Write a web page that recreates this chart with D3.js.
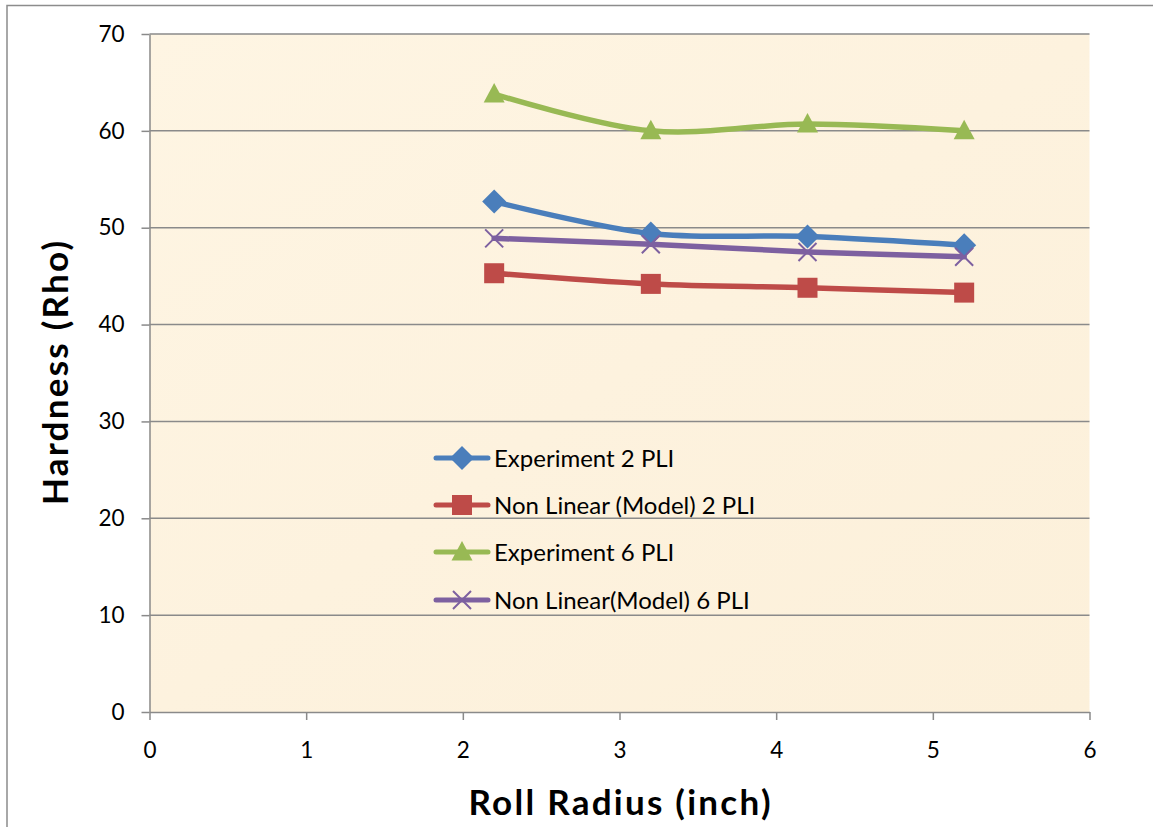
<!DOCTYPE html>
<html><head><meta charset="utf-8">
<script src="https://cdn.jsdelivr.net/npm/d3@7"></script>
<style>html,body{margin:0;padding:0;background:#fff;}svg{display:block;}</style>
</head><body>
<svg id="c" width="1153" height="827"></svg>
<script>
const radius = [2.2, 3.2, 4.2, 5.2];
const exp2 = [52.7, 49.4, 49.1, 48.2];
const model2 = [45.3, 44.2, 43.8, 43.3];
const exp6 = [63.8, 60.0, 60.7, 60.0];
const model6 = [48.9, 48.3, 47.5, 47.0];
const seriesNames = ["Experiment 2 PLI", "Non Linear (Model) 2 PLI", "Experiment 6 PLI", "Non Linear(Model) 6 PLI"];
const xTicks = [0, 1, 2, 3, 4, 5, 6];
const yTicks = [0, 10, 20, 30, 40, 50, 60, 70];

const series = [
  {name: seriesNames[0], values: exp2, color: "#4a7ebb", marker: "diamond"},
  {name: seriesNames[1], values: model2, color: "#be4b48", marker: "square"},
  {name: seriesNames[2], values: exp6, color: "#98b954", marker: "triangle"},
  {name: seriesNames[3], values: model6, color: "#7d60a0", marker: "x"}
];

const svg = d3.select("#c");
const font = "Lato, 'Open Sans', sans-serif";
const L = 149.5, R = 1089.5, T = 34, B = 712;

// outer border
svg.append("rect").attr("x", 7).attr("y", 5.5).attr("width", 1160).attr("height", 840)
  .attr("fill", "#fff").attr("stroke", "#8c8c8c").attr("stroke-width", 1.5);

const x = d3.scaleLinear().domain([0, 6]).range([L, R]);
const y = d3.scaleLinear().domain([0, 70]).range([B, T]);

// plot background (parchment)
const defs = svg.append("defs");
const g1 = defs.append("linearGradient").attr("id", "bg").attr("x1", 0).attr("y1", 0).attr("x2", 1).attr("y2", 1);
g1.append("stop").attr("offset", "0%").attr("stop-color", "#fef5e3");
g1.append("stop").attr("offset", "50%").attr("stop-color", "#fdf2de");
g1.append("stop").attr("offset", "100%").attr("stop-color", "#fcf0da");
svg.append("rect").attr("x", L).attr("y", T).attr("width", R - L).attr("height", B - T).attr("fill", "url(#bg)");

// gridlines
svg.append("g").selectAll("line").data(yTicks.filter(d => d > 0)).join("line")
  .attr("x1", L).attr("x2", R).attr("y1", d => y(d)).attr("y2", d => y(d))
  .attr("stroke", "#8a8a8a").attr("stroke-width", 1.5);

// y axis
const yAxis = svg.append("g").attr("transform", `translate(${L},0)`)
  .call(d3.axisLeft(y).tickValues(yTicks).tickFormat(d3.format("d")).tickSize(8).tickPadding(17).tickSizeOuter(0));
yAxis.select(".domain").attr("stroke", "#8a8a8a").attr("stroke-width", 1.5);
yAxis.selectAll(".tick line").attr("stroke", "#8a8a8a").attr("stroke-width", 1.5);
yAxis.selectAll(".tick text").attr("font-family", font).attr("font-size", 22.5).attr("fill", "#000");

// x axis
const xAxis = svg.append("g").attr("transform", `translate(0,${B})`)
  .call(d3.axisBottom(x).tickValues(xTicks).tickFormat(d3.format("d")).tickSize(8).tickPadding(22).tickSizeOuter(0));
xAxis.select(".domain").attr("stroke", "#8a8a8a").attr("stroke-width", 1.5);
xAxis.selectAll(".tick line").attr("stroke", "#8a8a8a").attr("stroke-width", 1.5);
xAxis.selectAll(".tick text").attr("font-family", font).attr("font-size", 22.5).attr("fill", "#000");

// axis titles
svg.append("text").attr("x", (L + R) / 2).attr("y", 815).attr("text-anchor", "middle")
  .attr("font-family", font).attr("font-weight", "bold").attr("font-size", 35)
  .attr("textLength", 302).attr("lengthAdjust", "spacing").text("Roll Radius (inch)");
svg.append("text").attr("transform", `translate(68,${(T + B) / 2}) rotate(-90)`).attr("text-anchor", "middle")
  .attr("font-family", font).attr("font-weight", "bold").attr("font-size", 35)
  .attr("textLength", 264).attr("lengthAdjust", "spacing").text("Hardness (Rho)");

function drawMarker(sel, type, color) {
  if (type === "diamond") {
    sel.append("path").attr("d", "M0,-12L12,0L0,12L-12,0Z").attr("fill", color);
  } else if (type === "square") {
    sel.append("rect").attr("x", -10).attr("y", -10).attr("width", 20).attr("height", 20).attr("fill", color);
  } else if (type === "triangle") {
    sel.append("path").attr("d", "M0,-11L10.5,8.5L-10.5,8.5Z").attr("fill", color);
  } else {
    sel.append("path").attr("d", "M-9,-9L9,9M9,-9L-9,9").attr("stroke", color).attr("stroke-width", 2).attr("fill", "none");
  }
}

const line = d3.line().x((d, i) => x(radius[i])).y(d => y(d)).curve(d3.curveCatmullRom.alpha(0.5));

series.forEach(s => {
  svg.append("path").datum(s.values).attr("d", line).attr("fill", "none")
    .attr("stroke", s.color).attr("stroke-width", 5.5).attr("stroke-linecap", "round").attr("stroke-linejoin", "round");
});
series.forEach(s => {
  s.values.forEach((v, i) => {
    const g = svg.append("g").attr("transform", `translate(${x(radius[i])},${y(v)})`);
    drawMarker(g, s.marker, s.color);
  });
});

// legend
const legY = [458, 505, 552, 600];
series.forEach((s, i) => {
  const g = svg.append("g").attr("transform", `translate(0,${legY[i]})`);
  g.append("line").attr("x1", 436).attr("x2", 488).attr("y1", 0).attr("y2", 0)
    .attr("stroke", s.color).attr("stroke-width", 5).attr("stroke-linecap", "round");
  const m = g.append("g").attr("transform", "translate(462,0)");
  drawMarker(m, s.marker, s.color);
  g.append("text").attr("x", 494).attr("y", 8.5).attr("font-family", font).attr("font-size", 24)
    .attr("fill", "#000").text(s.name);
});
</script>
</body></html>
